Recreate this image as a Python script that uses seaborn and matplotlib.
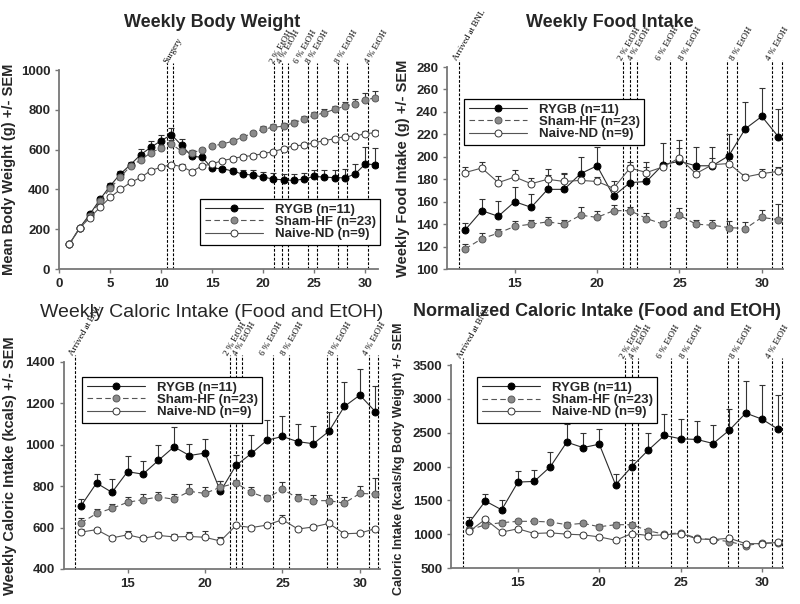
import numpy as np
import matplotlib
matplotlib.use('Agg')
import matplotlib.pyplot as plt
import seaborn as sns

# ---- data ----
weeks_all = list(range(1, 32))
weeks_late = list(range(12, 32))

bw_rygb = [125, 207, 275, 350, 418, 478, 525, 575, 612, 645, 675, 622, 566, 562, 506, 505, 492, 477, 472, 462,
           452, 448, 445, 452, 465, 462, 459, 458, 477, 527, 525]
bw_rygb_sem = [0, 5, 8, 10, 12, 15, 15, 28, 30, 30, 35, 32, 10, 12, 10, 10, 18, 22, 25, 25,
               28, 28, 32, 32, 35, 38, 40, 45, 50, 85, 85]
bw_sham = [125, 205, 268, 340, 405, 462, 518, 548, 585, 608, 628, 592, 585, 598, 618, 628, 642, 663, 683, 703,
           712, 718, 735, 752, 772, 785, 802, 818, 830, 850, 860]
bw_sham_sem = [0, 4, 6, 8, 10, 12, 12, 14, 15, 16, 18, 15, 12, 12, 12, 12, 12, 12, 12, 14,
               15, 15, 15, 15, 17, 17, 18, 20, 22, 35, 35]
bw_naive = [125, 205, 258, 310, 360, 400, 435, 460, 495, 512, 525, 515, 490, 518, 528, 545, 555, 565, 570, 580,
            590, 605, 620, 622, 635, 645, 655, 665, 668, 680, 685]
bw_naive_sem = [0, 4, 5, 6, 7, 8, 8, 8, 8, 10, 10, 12, 8, 10, 8, 8, 8, 8, 8, 10,
                10, 10, 10, 10, 10, 10, 10, 10, 12, 12, 12]

fi_rygb = [135, 152, 147, 160, 155, 171, 171, 185, 192, 165, 177, 178, 193, 196, 192, 192, 201, 225, 236, 218]
fi_rygb_sem = [6, 10, 14, 13, 12, 18, 15, 15, 17, 7, 16, 17, 19, 19, 17, 17, 19, 24, 25, 25]
fi_sham = [118, 127, 132, 138, 140, 142, 140, 148, 146, 152, 152, 145, 140, 148, 140, 139, 137, 136, 146, 144]
fi_sham_sem = [4, 5, 4, 5, 4, 4, 4, 7, 6, 5, 3, 5, 3, 6, 4, 5, 6, 6, 7, 14]
fi_naive = [186, 190, 177, 182, 176, 180, 178, 179, 178, 172, 190, 186, 191, 199, 185, 193, 194, 182, 185, 187]
fi_naive_sem = [5, 5, 6, 6, 5, 4, 7, 4, 4, 6, 5, 5, 3, 9, 4, 6, 4, 3, 4, 4]

ci_rygb = [705, 815, 770, 870, 858, 925, 990, 948, 960, 775, 900, 958, 1022, 1040, 1015, 1005, 1065, 1185, 1240, 1160]
ci_rygb_sem = [35, 43, 65, 75, 64, 75, 98, 57, 70, 50, 52, 87, 100, 100, 85, 87, 95, 120, 128, 125]
ci_sham = [622, 668, 693, 722, 735, 748, 737, 775, 765, 795, 815, 770, 742, 785, 742, 730, 730, 718, 765, 762]
ci_sham_sem = [23, 22, 22, 26, 25, 22, 23, 35, 32, 30, 15, 25, 13, 33, 20, 25, 25, 32, 37, 78]
ci_naive = [578, 590, 550, 565, 548, 562, 555, 557, 553, 535, 610, 600, 612, 638, 593, 603, 620, 570, 573, 595]
ci_naive_sem = [17, 8, 10, 20, 12, 16, 13, 21, 32, 20, 10, 8, 8, 24, 7, 9, 8, 8, 7, 7]

nc_rygb = [1170, 1490, 1360, 1770, 1780, 2000, 2360, 2280, 2330, 1730, 2000, 2240, 2460, 2410, 2400, 2340, 2540, 2790,
           2700, 2550]
nc_rygb_sem = [90, 100, 150, 170, 170, 210, 270, 220, 220, 160, 100, 260, 310, 290, 280, 280, 310, 480, 510, 500]
nc_sham = [1060, 1140, 1170, 1190, 1190, 1180, 1140, 1160, 1110, 1140, 1140, 1050, 1000, 1020, 940, 920, 890, 830,
           870, 870]
nc_sham_sem = [40, 40, 40, 40, 40, 35, 35, 35, 35, 35, 35, 30, 30, 30, 30, 30, 30, 30, 30, 40]
nc_naive = [1040, 1220, 1030, 1080, 1010, 1020, 1000, 990, 960, 910, 1010, 980, 990, 1010, 930, 920, 940, 860, 860, 880]
nc_naive_sem = [30, 30, 30, 30, 25, 25, 25, 25, 25, 25, 25, 25, 25, 25, 25, 25, 25, 25, 25, 25]

group_names = ['RYGB (n=11)', 'Sham-HF (n=23)', 'Naive-ND (n=9)']

surgery_x = [10.6, 11.2]
etoh_lines_top = [21.1, 21.8, 22.4, 24.4, 25.3, 27.3, 28.2, 30.3]
etoh_labels_top_x = [21.2, 21.9, 23.6, 24.8, 27.6, 30.5]
arrived_x = 11.6
etoh_lines = [21.6, 22.0, 22.4, 24.4, 25.4, 27.9, 28.5, 30.6, 31.2]
etoh_labels_x = [21.6, 22.2, 23.9, 25.3, 28.4, 30.6]
etoh_labels = ['2 % EtOH', '4 % EtOH', '6 % EtOH', '8 % EtOH', '8 % EtOH', '4 % EtOH']

# ---- style ----
sns.set_style('ticks')
plt.rcParams['font.family'] = ['Liberation Sans', 'DejaVu Sans']
plt.rcParams['font.weight'] = 'bold'

styles = [
    dict(color='#2a2a2a', linestyle='-', markerfacecolor='black', markeredgecolor='black'),
    dict(color='#555555', linestyle=(0, (5, 3)), markerfacecolor='#8a8a8a', markeredgecolor='#5a5a5a'),
    dict(color='#555555', linestyle='-', markerfacecolor='white', markeredgecolor='#333333'),
]

fig = plt.figure(figsize=(8, 6.04), dpi=100)


def draw_panel(ax, x, series, sems):
    for vals, sem, st, name in zip(series, sems, styles, group_names):
        ax.errorbar(x, vals, yerr=[np.zeros(len(sem)), sem], fmt='none', ecolor='#333333',
                    elinewidth=0.8, capsize=2.5, capthick=0.8, zorder=2)
        sns.lineplot(x=x, y=vals, ax=ax, marker='o', markersize=5, markeredgewidth=0.7,
                     linewidth=0.8, label=name, zorder=3, **st)


def vlines(ax, xs):
    for xv in xs:
        ax.axvline(xv, ymin=0, ymax=1.035, color='black', lw=0.8, linestyle=(0, (2.5, 1.5)),
                   clip_on=False, zorder=1)


def vlabel(ax, xv, text):
    ax.text(xv, 1.025, text, transform=ax.get_xaxis_transform(), rotation=60,
            rotation_mode='anchor', ha='left', va='bottom', fontsize=6.5, color='black',
            family='Liberation Serif', fontweight='normal', clip_on=False)


def finish(ax, ylabel, lx, ly, ylab_x, ylab_size=10.5, ylab_y=0.5):
    ax.set_ylabel(ylabel, fontsize=ylab_size, fontweight='bold')
    ax.yaxis.set_label_coords(ylab_x, ylab_y)
    ax.set_xlabel('')
    for s in ['top', 'right']:
        ax.spines[s].set_visible(False)
    for s in ['left', 'bottom']:
        ax.spines[s].set_color('#777777')
        ax.spines[s].set_linewidth(1.3)
    ax.tick_params(axis='both', labelsize=9.5, length=3, color='#777777', width=1)
    for lab in ax.get_xticklabels() + ax.get_yticklabels():
        lab.set_fontweight('bold')
    leg = ax.legend(loc='upper left', bbox_to_anchor=(lx, ly), fontsize=9.5, handlelength=4.4,
                    handletextpad=0.9, labelspacing=0.0, borderpad=0.35, frameon=True,
                    fancybox=False, framealpha=1, edgecolor='black', borderaxespad=0)
    leg.get_frame().set_linewidth(0.9)
    for t in leg.get_texts():
        t.set_fontweight('bold')


# panel 1: body weight
ax1 = fig.add_axes([0.074, 0.5546, 0.399, 0.3295])
draw_panel(ax1, weeks_all, [bw_rygb, bw_sham, bw_naive], [bw_rygb_sem, bw_sham_sem, bw_naive_sem])
vlines(ax1, surgery_x + etoh_lines_top)
vlabel(ax1, 10.8, 'Surgery')
for xv, t in zip(etoh_labels_top_x, etoh_labels):
    vlabel(ax1, xv, t)
ax1.set_xlim(0, 31.3)
ax1.set_ylim(0, 1000)
ax1.set_xticks([0, 5, 10, 15, 20, 25, 30])
ax1.set_yticks([0, 200, 400, 600, 800, 1000])
finish(ax1, 'Mean Body Weight (g) +/- SEM', 0.442, 0.352, -0.135)

# panel 2: food intake
ax2 = fig.add_axes([0.559, 0.5546, 0.42, 0.3344])
draw_panel(ax2, weeks_late, [fi_rygb, fi_sham, fi_naive], [fi_rygb_sem, fi_sham_sem, fi_naive_sem])
vlines(ax2, [arrived_x] + etoh_lines)
vlabel(ax2, arrived_x, 'Arrived at BNL')
for xv, t in zip(etoh_labels_x, etoh_labels):
    vlabel(ax2, xv, t)
ax2.set_xlim(10.9, 31.3)
ax2.set_ylim(100, 280)
ax2.set_xticks([15, 20, 25, 30])
ax2.set_yticks(list(range(100, 281, 20)))
finish(ax2, 'Weekly Food Intake (g) +/- SEM', 0.05, 0.842, -0.11)

# panel 3: caloric intake
ax3 = fig.add_axes([0.080, 0.058, 0.395, 0.3427])
draw_panel(ax3, weeks_late, [ci_rygb, ci_sham, ci_naive], [ci_rygb_sem, ci_sham_sem, ci_naive_sem])
vlines(ax3, [arrived_x] + etoh_lines)
vlabel(ax3, arrived_x, 'Arrived at BNL')
for xv, t in zip(etoh_labels_x, etoh_labels):
    vlabel(ax3, xv, t)
ax3.set_xlim(10.9, 31.3)
ax3.set_ylim(400, 1400)
ax3.set_xticks([15, 20, 25, 30])
ax3.set_yticks(list(range(400, 1401, 200)))
finish(ax3, 'Weekly Caloric Intake (kcals) +/- SEM', 0.057, 0.928, -0.15)

# panel 4: normalized caloric intake
ax4 = fig.add_axes([0.564, 0.0596, 0.415, 0.336])
draw_panel(ax4, weeks_late, [nc_rygb, nc_sham, nc_naive], [nc_rygb_sem, nc_sham_sem, nc_naive_sem])
vlines(ax4, [arrived_x] + etoh_lines)
vlabel(ax4, arrived_x, 'Arrived at BNL')
for xv, t in zip(etoh_labels_x, etoh_labels):
    vlabel(ax4, xv, t)
ax4.set_xlim(10.9, 31.3)
ax4.set_ylim(500, 3500)
ax4.set_xticks([15, 20, 25, 30])
ax4.set_yticks(list(range(500, 3501, 500)))
finish(ax4, 'Caloric Intake (kcals/kg Body Weight) +/- SEM', 0.078, 0.941, -0.14, ylab_size=9, ylab_y=0.54)

# panel titles
fig.text(0.265, 0.962, 'Weekly Body Weight', ha='center', va='center', fontsize=13, fontweight='bold')
fig.text(0.762, 0.962, 'Weekly Food Intake', ha='center', va='center', fontsize=13, fontweight='bold')
fig.text(0.264, 0.482, 'Weekly Caloric Intake (Food and EtOH)', ha='center', va='center', fontsize=14,
         fontweight='normal')
fig.text(0.746, 0.484, 'Normalized Caloric Intake (Food and EtOH)', ha='center', va='center', fontsize=13,
         fontweight='bold')

fig.savefig('out.png', dpi=100, facecolor='white')
